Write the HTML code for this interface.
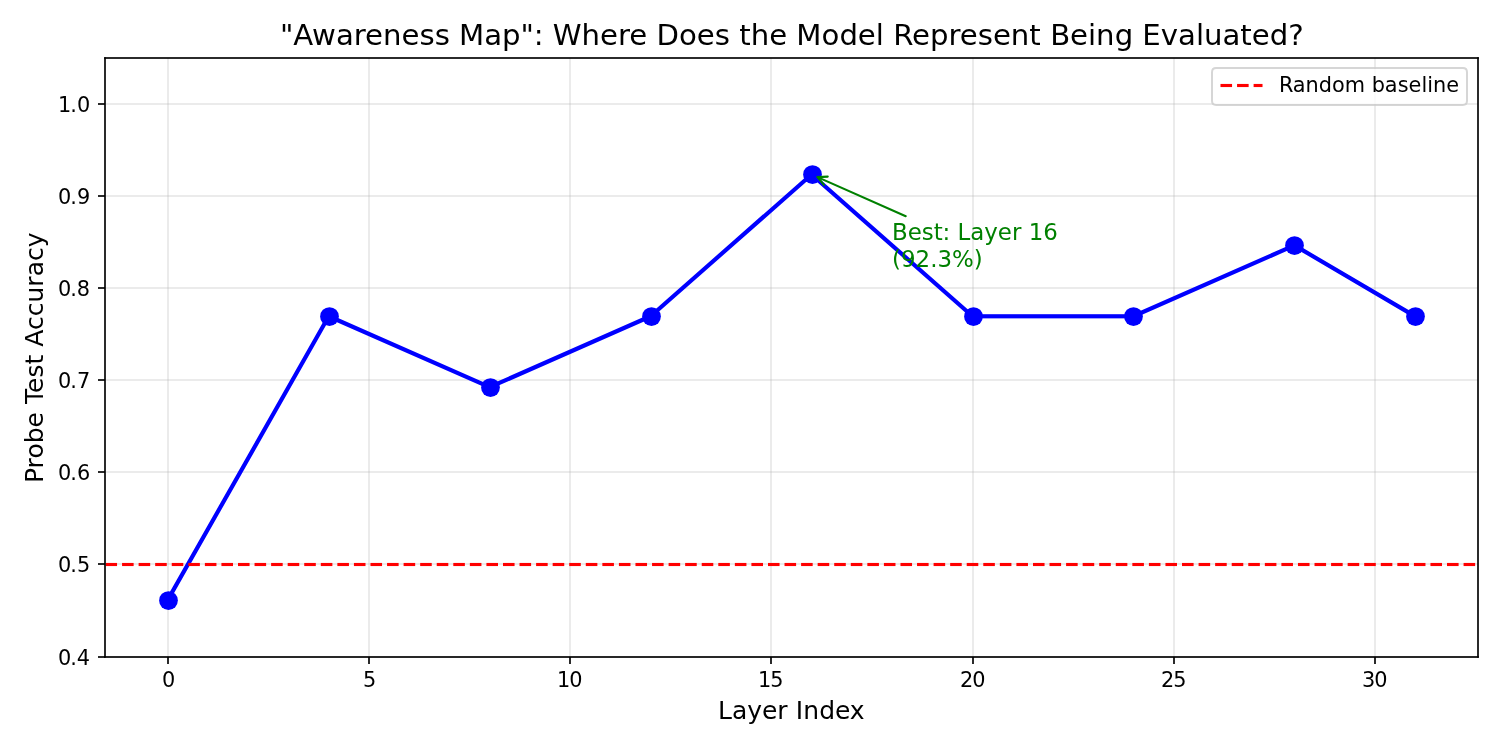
<!DOCTYPE html>
<html lang="en">
<head>
<meta charset="utf-8">
<title>&quot;Awareness Map&quot;: Where Does the Model Represent Being Evaluated?</title>
<style>
html,body{margin:0;padding:0;background:#ffffff;}
body{width:1500px;height:750px;overflow:hidden;font-family:"DejaVu Sans","Liberation Sans",sans-serif;}
svg{display:block;}
</style>
</head>
<body>
<svg width="1500" height="750" viewBox="0 0 1500 750" font-family='"DejaVu Sans", "Liberation Sans", sans-serif'>
<rect x="0" y="0" width="1500" height="750" fill="#ffffff"/>
<g fill="none" stroke="#b0b0b0" stroke-opacity="0.3" stroke-width="1.667">
<path d="M168 657 V58"/>
<path d="M369 657 V58"/>
<path d="M570 657 V58"/>
<path d="M771 657 V58"/>
<path d="M973 657 V58"/>
<path d="M1174 657 V58"/>
<path d="M1375 657 V58"/>
</g>
<g fill="none" stroke="#b0b0b0" stroke-opacity="0.25" stroke-width="2">
<path d="M105 657 H1478"/>
<path d="M105 564 H1478"/>
<path d="M105 472 H1478"/>
<path d="M105 380 H1478"/>
<path d="M105 288 H1478"/>
<path d="M105 196 H1478"/>
<path d="M105 104 H1478"/>
</g>
<g fill="none" stroke="#000000" stroke-width="1.667">
<path d="M168 657 V664"/>
<path d="M369 657 V664"/>
<path d="M570 657 V664"/>
<path d="M771 657 V664"/>
<path d="M973 657 V664"/>
<path d="M1174 657 V664"/>
<path d="M1375 657 V664"/>
</g>
<g fill="none" stroke="#000000" stroke-opacity="0.8333" stroke-width="2">
<path d="M105 657 H98"/>
<path d="M105 564 H98"/>
<path d="M105 472 H98"/>
<path d="M105 380 H98"/>
<path d="M105 288 H98"/>
<path d="M105 196 H98"/>
<path d="M105 104 H98"/>
</g>
<g font-size="20.833" fill="#000000" text-anchor="middle">
<text id="xtick0" x="161.964" y="687.059" text-anchor="start">0</text>
<text id="xtick1" x="363.024" y="687.059" text-anchor="start">5</text>
<text id="xtick2" x="556.959 569.209" y="687.059" text-anchor="start">10</text>
<text id="xtick3" x="758.019 770.269" y="687.059" text-anchor="start">15</text>
<text id="xtick4" x="959.955 972.205" y="687.059" text-anchor="start">20</text>
<text id="xtick5" x="1161.015 1173.265" y="687.059" text-anchor="start">25</text>
<text id="xtick6" x="1361.95 1374.2" y="687.059" text-anchor="start">30</text>
</g>
<g font-size="20.833" fill="#000000" text-anchor="end">
<text id="ytick0" x="57.958 70.208 76.755" y="665.061" text-anchor="start">0.4</text>
<text id="ytick1" x="57.958 70.208 77.005" y="572.019" text-anchor="start">0.5</text>
<text id="ytick2" x="57.958 70.208 77.005" y="480.415" text-anchor="start">0.6</text>
<text id="ytick3" x="57.958 70.208 77.005" y="388.498" text-anchor="start">0.7</text>
<text id="ytick4" x="57.958 70.208 76.755" y="296.332" text-anchor="start">0.8</text>
<text id="ytick5" x="57.958 70.208 77.005" y="203.978" text-anchor="start">0.9</text>
<text id="ytick6" x="57.958 70.208 77.005" y="112.061" text-anchor="start">1.0</text>
</g>
<text id="xlabel" x="718.028 731.95 747.263 762.06 777.263 787.528 795.731 803.294 819.2 835.013 849.7" y="718.971" text-anchor="start" font-size="25" fill="#000000">Layer Index</text>
<text id="ylabel" x="-82.354 -67.979 -57.745 -42.635 -26.838 -11.26 -3.323 7.709 23.146 36.177 45.974 53.927 70.584 84.396 98.146 113.927 124.443 139.709 153.459" y="357.667" text-anchor="start" font-size="25" fill="#000000" transform="rotate(-90 42.982 357.667)">Probe Test Accuracy</text>
<clipPath id="ax"><rect x="105.417" y="57.5" width="1372.083" height="599.083"/></clipPath>
<g clip-path="url(#ax)">
<path d="M167.784 599.865 L328.732 316.276 L489.68 387.173 L650.629 316.276 L811.577 174.481 L972.525 316.276 M1133.473 316.276 L1294.421 245.378 L1415.133 316.276" fill="none" stroke="#0000ff" stroke-width="4.167" stroke-linecap="square" stroke-linejoin="round"/>
<g fill="#0000ff"><rect x="973" y="315" width="161" height="3"/><rect x="973" y="314" width="161" height="1" fill-opacity="0.801"/><rect x="973" y="318" width="161" height="1" fill-opacity="0.365"/></g>
<g fill="#0000ff">
<circle cx="168.5" cy="600.5" r="9.375"/>
<circle cx="329.5" cy="316.5" r="9.375"/>
<circle cx="490.5" cy="387.5" r="9.375"/>
<circle cx="651.5" cy="316.5" r="9.375"/>
<circle cx="812.5" cy="174.5" r="9.375"/>
<circle cx="973.5" cy="316.5" r="9.375"/>
<circle cx="1133.5" cy="316.5" r="9.375"/>
<circle cx="1294.5" cy="245.5" r="9.375"/>
<circle cx="1415.5" cy="316.5" r="9.375"/>
</g>
<path d="M105.5 564.5 H1478.5" fill="none" stroke="#ff0000" stroke-opacity="0.0625" stroke-width="5" stroke-dasharray="11.562 5"/>
<path d="M105.5 564.5 H1478.5" fill="none" stroke="#ff0000" stroke-width="3" stroke-dasharray="11.562 5"/>
</g>
<g fill="none" stroke="#000000" stroke-width="1.667" stroke-linecap="square">
<path d="M105 657 V58"/><path d="M1478 657 V58"/>
</g>
<g fill="none" stroke="#000000" stroke-opacity="0.8333" stroke-width="2">
<path d="M104.167 657 H1478.833"/><path d="M104.167 58 H1478.833"/>
</g>
<g fill="none" stroke="#008000" stroke-width="2.083" stroke-linecap="round" stroke-linejoin="round">
<path d="M905.77 216.194 Q860.578 196.181 817.515 177.111"/>
<path d="M824.041 185.013 L817.515 177.111 L827.753 176.632"/>
</g>
<g font-size="22.917" fill="#008000">
<text id="ann1" x="892.051 907.754 921.785 933.785 942.52 950.239 957.52 970.207 984.254 997.801 1011.957 1021.379 1028.723 1043.239" y="240.173" text-anchor="start">Best: Layer 16</text>
<text id="ann2" x="892.051 900.973 915.551 930.192 937.473 951.989 973.754" y="266.96" text-anchor="start">(92.3%)</text>
</g>
<text id="title" x="280.052 293.208 311.974 336.005 353.739 365.021 382.958 401.442 419.442 434.755 449.271 459.036 484.192 502.052 520.505 533.724 543.552 552.755 581.458 600.052 618.052 629.161 647.099 656.552 679.005 696.708 714.771 730.896 739.302 750.724 769.208 787.146 796.224 821.505 839.474 857.724 875.786 883.958 893.224 911.974 930.052 948.552 959.708 977.708 993.021 1010.771 1029.255 1041.192 1050.208 1069.958 1087.958 1095.989 1114.724 1133.239 1142.255 1160.739 1177.989 1196.036 1203.958 1222.442 1240.239 1251.739 1269.802 1288.302" y="44.938" text-anchor="start" font-size="29.167" fill="#000000">"Awareness Map": Where Does the Model Represent Being Evaluated?</text>
<path d="M1216.167 105 H1462.833 Q1467 105 1467 100.833 V72.167 Q1467 68 1462.833 68 H1216.167 Q1212 68 1212 72.167 V100.833 Q1212 105 1216.167 105 Z" fill="#ffffff" stroke="#cccccc" stroke-width="2" stroke-linejoin="miter" opacity="0.8"/>
<path d="M1220.5 85.5 H1262.5" fill="none" stroke="#ff0000" stroke-opacity="0.0625" stroke-width="5" stroke-dasharray="11.562 5"/>
<path d="M1220.5 85.5 H1262.5" fill="none" stroke="#ff0000" stroke-width="3" stroke-dasharray="11.562 5"/>
<text id="legend" x="1279.061 1292.811 1305.451 1318.779 1332.061 1344.811 1365.092 1371.717 1384.748 1397.701 1408.561 1421.561 1427.217 1432.998 1446.201" y="92.018" text-anchor="start" font-size="20.833" fill="#000000">Random baseline</text>
</svg>
</body>
</html>
